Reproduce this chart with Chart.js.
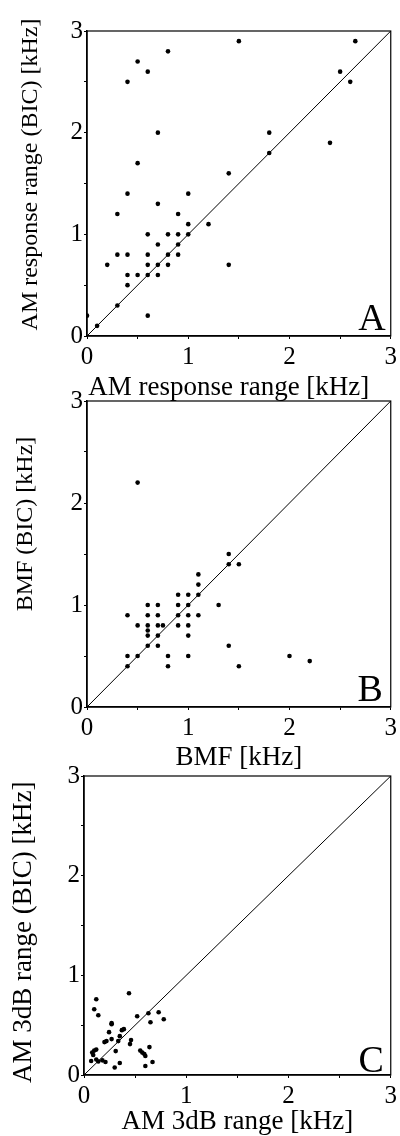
<!DOCTYPE html>
<html lang="en">
<head>
<meta charset="UTF-8">
<title>AM response vs BIC</title>
<script src="https://cdn.jsdelivr.net/npm/chart.js"></script>
<style>
  body { margin: 0; background: #fff; }
  canvas { position: absolute; left: 0; }
</style>
</head>
<body>
<canvas id="chartA" width="400" height="410" style="top:0"></canvas>
<canvas id="chartB" width="400" height="400" style="top:380px"></canvas>
<canvas id="chartC" width="400" height="376" style="top:760px"></canvas>
<script>
// panel A: AM response range, single neuron vs BIC (kHz)
const aX = [1.5, 2.65, 0.8, 0.5, 0.6, 0.4, 2.5, 2.6, 0.7, 1.8, 1.8, 2.4, 0.5, 1.4, 0.4, 1.0, 0.7, 0.3, 0.9, 1.0, 1.2, 0.6, 0.8, 0.9, 1.0, 0.7, 0.9, 0.3, 0.4, 0.6, 0.8, 0.9, 0.2, 0.6, 0.7, 0.8, 1.4, 0.4, 0.5, 0.6, 0.7, 0.4, 0.3, 0.6, 0.0, 0.1];
const aY = [2.9, 2.9, 2.8, 2.7, 2.6, 2.5, 2.6, 2.5, 2.0, 2.0, 1.8, 1.9, 1.7, 1.6, 1.4, 1.4, 1.3, 1.2, 1.2, 1.1, 1.1, 1.0, 1.0, 1.0, 1.0, 0.9, 0.9, 0.8, 0.8, 0.8, 0.8, 0.8, 0.7, 0.7, 0.7, 0.7, 0.7, 0.6, 0.6, 0.6, 0.6, 0.5, 0.3, 0.2, 0.2, 0.1];

// panel B: BMF vs BMF (BIC)
const bX = [0.5, 1.4, 1.4, 1.5, 1.1, 1.1, 0.9, 1.0, 1.1, 0.6, 0.7, 0.9, 1.0, 1.3, 0.4, 0.6, 0.7, 0.9, 1.0, 1.1, 0.5, 0.6, 0.7, 0.75, 0.9, 1.0, 0.6, 0.6, 0.7, 1.0, 0.6, 0.7, 1.4, 0.4, 0.5, 0.8, 1.0, 2.0, 0.4, 0.8, 1.5, 2.2];
const bY = [2.2, 1.5, 1.4, 1.4, 1.3, 1.2, 1.1, 1.1, 1.1, 1.0, 1.0, 1.0, 1.0, 1.0, 0.9, 0.9, 0.9, 0.9, 0.9, 0.9, 0.8, 0.8, 0.8, 0.8, 0.8, 0.8, 0.75, 0.7, 0.7, 0.7, 0.6, 0.6, 0.6, 0.5, 0.5, 0.5, 0.5, 0.5, 0.4, 0.4, 0.4, 0.45];

// panel C: AM 3dB range vs AM 3dB range (BIC)
const cX = [0.44, 0.12, 0.10, 0.14, 0.52, 0.63, 0.73, 0.78, 0.65, 0.27, 0.27, 0.39, 0.37, 0.245, 0.35, 0.27, 0.22, 0.20, 0.46, 0.45, 0.335, 0.12, 0.10, 0.08, 0.09, 0.31, 0.55, 0.57, 0.59, 0.60, 0.64, 0.07, 0.12, 0.14, 0.18, 0.21, 0.35, 0.30, 0.60, 0.67];
const cY = [0.82, 0.76, 0.66, 0.60, 0.59, 0.62, 0.63, 0.56, 0.53, 0.52, 0.51, 0.46, 0.45, 0.43, 0.39, 0.36, 0.34, 0.33, 0.35, 0.31, 0.34, 0.255, 0.245, 0.225, 0.20, 0.24, 0.245, 0.225, 0.21, 0.19, 0.28, 0.14, 0.155, 0.135, 0.147, 0.13, 0.12, 0.075, 0.09, 0.13];

const axisRange = [0, 3];
const majorTicks = [0, 1, 2, 3];
const serif = "'Liberation Serif', 'Times New Roman', serif";
const nbsp = n => '\u00A0'.repeat(n);

// box around plot + panel letter
const framePlugin = {
  id: 'frame',
  afterDraw(chart, args, opts) {
    const { ctx, chartArea: a } = chart;
    ctx.save();
    ctx.strokeStyle = '#000';
    ctx.lineWidth = 1.2;
    ctx.strokeRect(a.left, a.top, a.right - a.left, a.bottom - a.top);
    ctx.font = '38px ' + serif;
    ctx.fillStyle = '#000';
    ctx.textAlign = 'right';
    ctx.textBaseline = 'alphabetic';
    ctx.fillText(opts.letter, a.right - opts.dx, a.bottom - opts.dy);
    ctx.restore();
  }
};

function makePanel(id, xs, ys, cfg) {
  const pts = xs.map((x, i) => ({ x: x, y: ys[i] }));
  const tickOpts = {
    stepSize: 0.5,
    autoSkip: false,
    color: '#000',
    font: { family: serif, size: 25 },
    callback: v => majorTicks.includes(v) ? String(v) : ''
  };
  const gridOpts = { drawOnChartArea: false, drawTicks: true, tickLength: 3, color: '#000', lineWidth: 1 };
  return new Chart(document.getElementById(id), {
    type: 'scatter',
    data: {
      datasets: [
        {
          data: pts,
          pointRadius: 2.3,
          pointHoverRadius: 2.3,
          pointBackgroundColor: '#000',
          pointBorderWidth: 0
        },
        {
          type: 'line',
          data: [{ x: axisRange[0], y: axisRange[0] }, { x: axisRange[1], y: axisRange[1] }],
          borderColor: '#000',
          borderWidth: 1,
          pointRadius: 0,
          fill: false
        }
      ]
    },
    options: {
      responsive: false,
      animation: false,
      events: [],
      layout: { autoPadding: false, padding: { top: cfg.top, right: cfg.right, bottom: 0, left: 0 } },
      plugins: {
        legend: { display: false },
        tooltip: { enabled: false },
        frame: { letter: cfg.letter, dx: cfg.ldx, dy: cfg.ldy }
      },
      scales: {
        x: {
          type: 'linear',
          min: axisRange[0], max: axisRange[1],
          ticks: Object.assign({ padding: 3, maxRotation: 0 }, tickOpts),
          grid: gridOpts,
          border: { color: '#000', width: 1.5 },
          title: { display: true, text: cfg.xTitle, color: '#000', font: { family: serif, size: 27, lineHeight: 1 }, padding: { top: 0, bottom: cfg.xtPad } },
          afterFit(s) { s.height = cfg.xh; }
        },
        y: {
          type: 'linear',
          min: axisRange[0], max: axisRange[1],
          ticks: Object.assign({ padding: 1 }, tickOpts),
          grid: gridOpts,
          border: { color: '#000', width: 1.5 },
          title: { display: true, text: cfg.yTitle, color: '#000', font: { family: serif, size: cfg.fs, lineHeight: 1 }, padding: { top: cfg.ytPad, bottom: 0 } },
          afterFit(s) { s.width = cfg.yw; }
        }
      }
    },
    plugins: [framePlugin]
  });
}

makePanel('chartA', aX, aY, {
  top: 31, right: 3, xh: 74, yw: 87, xtPad: 8.5, ytPad: 19, fs: 24,
  letter: 'A', ldx: 5, ldy: 6,
  xTitle: 'AM response range [kHz]' + nbsp(3), yTitle: nbsp(3) + 'AM response range (BIC) [kHz]'
});
makePanel('chartB', bX, bY, {
  top: 21, right: 3, xh: 73, yw: 87, xtPad: 8.5, ytPad: 14, fs: 24,
  letter: 'B', ldx: 8, ldy: 6,
  xTitle: 'BMF [kHz]', yTitle: nbsp(10) + 'BMF (BIC) [kHz]'
});
makePanel('chartC', cX, cY, {
  top: 9, right: 5, xh: 61, yw: 84, xtPad: 0.5, ytPad: 10.5, fs: 27,
  letter: 'C', ldx: 7, ldy: 3,
  xTitle: 'AM 3dB range [kHz]', yTitle: 'AM 3dB range (BIC) [kHz]' + nbsp(2)
});
</script>
</body>
</html>
